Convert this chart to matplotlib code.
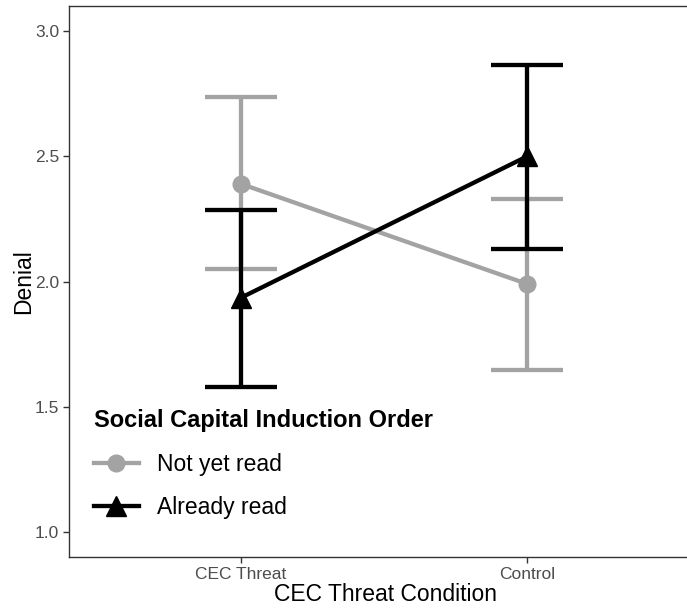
import numpy as np
import matplotlib
matplotlib.use("Agg")
import matplotlib.pyplot as plt

plt.rcParams['font.family'] = ['Liberation Sans', 'DejaVu Sans']

conditions = ["CEC Threat", "Control"]
groups = ["Not yet read", "Already read"]

# means and error bar limits
not_yet_mean = [2.39, 1.99]
not_yet_low = [2.05, 1.645]
not_yet_high = [2.735, 2.33]

already_mean = [1.935, 2.50]
already_low = [1.58, 2.13]
already_high = [2.285, 2.865]

yticks = [1.0, 1.5, 2.0, 2.5, 3.0]

grey = "#a3a3a3"
black = "#000000"

fig = plt.figure(figsize=(6.87, 6.09), dpi=100)
# panel runs a bit past the right edge of the picture, as in the original
ax = fig.add_axes([69 / 687, 52 / 609, 633 / 687, 551 / 609])

x = np.arange(1, len(conditions) + 1)

series = [
    (groups[0], not_yet_mean, not_yet_low, not_yet_high, grey, "o", 12),
    (groups[1], already_mean, already_low, already_high, black, "^", 14),
]

for name, mean, low, high, col, mk, ms in series:
    mean = np.array(mean)
    err = [mean - np.array(low), np.array(high) - mean]
    ax.errorbar(x, mean, yerr=err, fmt="none", ecolor=col, elinewidth=3.1,
                capsize=26, capthick=3.1, zorder=2)
    ax.plot(x, mean, color=col, lw=3.1, marker=mk, ms=ms, label=name, zorder=3)

ax.set_xlim(0.4, 2.61)
ax.set_ylim(0.9, 3.1)
ax.set_xticks(x)
ax.set_xticklabels(conditions)
ax.set_yticks(yticks)
ax.set_yticklabels([f"{v:.1f}" for v in yticks])

ax.tick_params(axis="both", colors="#333333", labelcolor="#4d4d4d",
               labelsize=12.5, length=4, width=1.0, pad=3)
for sp in ax.spines.values():
    sp.set_color("#333333")
    sp.set_linewidth(1.0)
ax.spines["right"].set_visible(False)  # cut off in the original anyway

ax.set_xlabel("CEC Threat Condition", fontsize=16.5, labelpad=1)
ax.set_ylabel("Denial", fontsize=16.5, labelpad=0)

leg = ax.legend(title="Social Capital Induction Order", loc="upper left",
                bbox_to_anchor=(94 / 687, 1 - 409 / 609),
                bbox_transform=fig.transFigure, frameon=False,
                fontsize=16.5, title_fontproperties={"weight": "bold", "size": 17},
                handlelength=1.95, handletextpad=0.8, labelspacing=0.9,
                borderpad=0, borderaxespad=0, alignment="left")

fig.savefig("out.png", dpi=100)
